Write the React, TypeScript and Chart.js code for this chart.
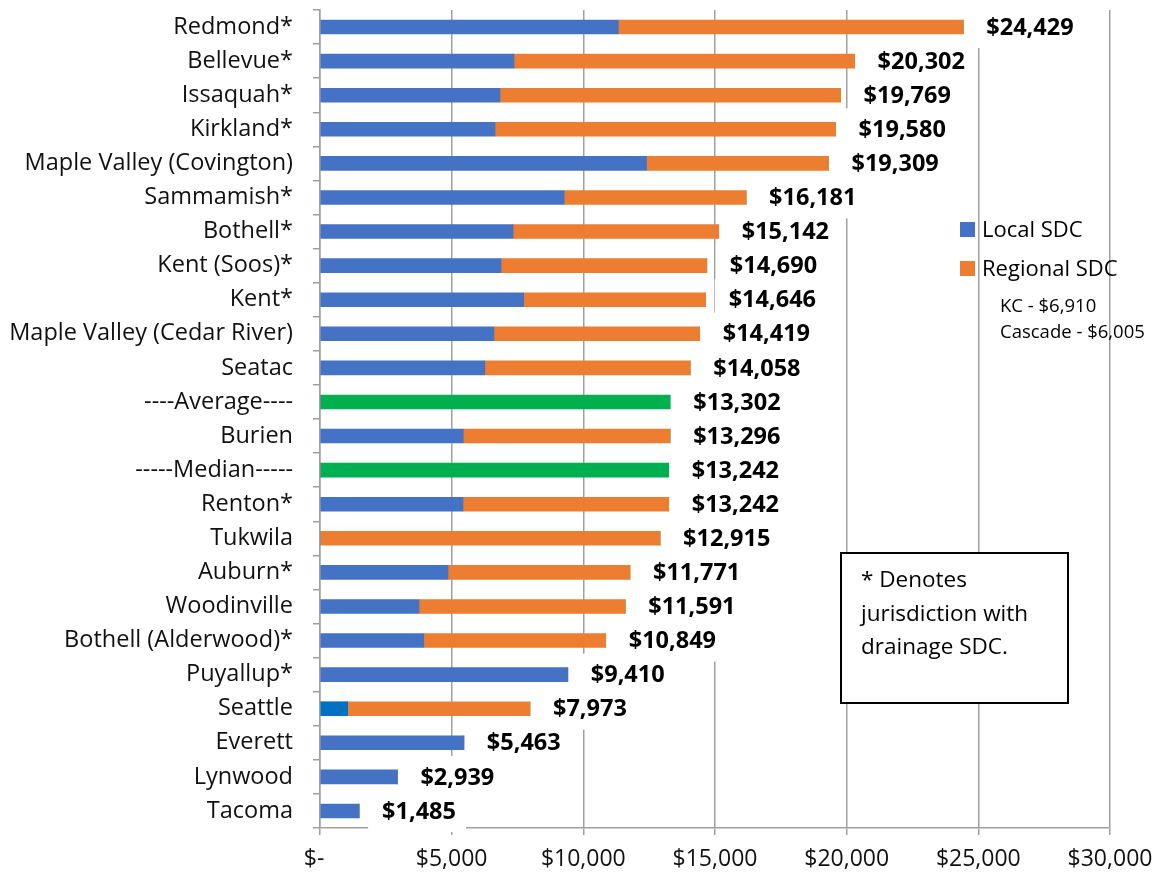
import React, { useEffect, useRef } from 'react';
import { Chart, registerables } from 'chart.js';

Chart.register(...registerables);

const categories = [
  'Redmond*',
  'Bellevue*',
  'Issaquah*',
  'Kirkland*',
  'Maple Valley (Covington)',
  'Sammamish*',
  'Bothell*',
  'Kent (Soos)*',
  'Kent*',
  'Maple Valley (Cedar River)',
  'Seatac',
  '----Average----',
  'Burien',
  '-----Median-----',
  'Renton*',
  'Tukwila',
  'Auburn*',
  'Woodinville',
  'Bothell (Alderwood)*',
  'Puyallup*',
  'Seattle',
  'Everett',
  'Lynwood',
  'Tacoma',
];

const localSDC = [
  11330, 7368, 6835, 6646, 12399, 9271, 7330, 6875, 7736, 6604, 6258, 0,
  5440, 0, 5430, 0, 4861, 3760, 3939, 9410, 1050, 5463, 2939, 1485,
];

const regionalSDC = [
  13099, 12934, 12934, 12934, 6910, 6910, 7812, 7815, 6910, 7815, 7800, 0,
  7856, 0, 7812, 12915, 6910, 7831, 6910, 0, 6923, 0, 0, 0,
];

const summarySDC = [
  0, 0, 0, 0, 0, 0, 0, 0, 0, 0, 0, 13302,
  0, 13242, 0, 0, 0, 0, 0, 0, 0, 0, 0, 0,
];

const xTickMin = 0;
const xTickMax = 30000;
const xTickStep = 5000;

const legendItems = ['Local SDC', 'Regional SDC'];
const legendNotes = ['KC - $6,910', 'Cascade - $6,005'];
const noteLines = ['* Denotes', 'jurisdiction with', 'drainage SDC.'];

const BLUE = '#4472C4';
const DARK_BLUE = '#0070C0';
const ORANGE = '#ED7D31';
const GREEN = '#00B050';
const GRID = '#a0a0a0';
const FONT = '"Open Sans", Lato, sans-serif';

const fmt = (v: number) => '$' + v.toLocaleString('en-US');

const valueLabels = {
  id: 'valueLabels',
  afterDatasetsDraw(chart: any) {
    const ctx = chart.ctx;
    const xs = chart.scales.x;
    const ys = chart.scales.y;
    ctx.save();
    ctx.font = `bold 23.5px ${FONT}`;
    const items = categories.map((_, i) => {
      const total = localSDC[i] + regionalSDC[i] + summarySDC[i];
      const text = fmt(total);
      const tx = xs.getPixelForValue(total) + 23;
      const ty = ys.getPixelForValue(i);
      const w = ctx.measureText(text).width;
      return { text, tx, ty, w };
    });
    ctx.fillStyle = '#ffffff';
    items.forEach((it) => ctx.fillRect(it.tx - 14, it.ty - 21, it.w + 24, 42));
    ctx.fillStyle = '#000000';
    ctx.textAlign = 'left';
    ctx.textBaseline = 'middle';
    items.forEach((it) => ctx.fillText(it.text, it.tx, it.ty + 1));
    ctx.restore();
  },
};

const extras = {
  id: 'extras',
  afterDraw(chart: any) {
    const ctx = chart.ctx;
    ctx.save();
    // legend
    const colors = [BLUE, ORANGE];
    const baselines = [237, 276];
    ctx.textAlign = 'left';
    ctx.textBaseline = 'alphabetic';
    ctx.font = `22px ${FONT}`;
    legendItems.forEach((t, i) => {
      ctx.fillStyle = colors[i];
      ctx.fillRect(960, baselines[i] - 15, 15, 15);
      ctx.fillStyle = '#000';
      ctx.fillText(t, 982, baselines[i]);
    });
    ctx.font = `18.5px ${FONT}`;
    const noteBase = [312, 338];
    legendNotes.forEach((t, i) => ctx.fillText(t, 1000, noteBase[i]));

    // note box
    ctx.fillStyle = '#fff';
    ctx.fillRect(841, 553, 227, 150);
    ctx.strokeStyle = '#000';
    ctx.lineWidth = 2;
    ctx.strokeRect(841, 553, 227, 150);
    ctx.fillStyle = '#000';
    ctx.font = `22.5px ${FONT}`;
    const nb = [587, 621, 654];
    noteLines.forEach((t, i) => ctx.fillText(t, 861, nb[i]));
    ctx.restore();
  },
};

export default function App() {
  const ref = useRef<HTMLCanvasElement>(null);

  useEffect(() => {
    document.body.style.margin = '0';
    const canvas = ref.current;
    if (!canvas) return;
    const chart = new Chart(canvas, {
      type: 'bar',
      data: {
        labels: categories,
        datasets: [
          {
            label: 'Local SDC',
            data: localSDC,
            backgroundColor: categories.map((c) => (c === 'Seattle' ? DARK_BLUE : BLUE)),
            barThickness: 14,
          },
          {
            label: 'Regional SDC',
            data: regionalSDC,
            backgroundColor: ORANGE,
            barThickness: 14,
          },
          {
            label: 'Summary',
            data: summarySDC,
            backgroundColor: GREEN,
            barThickness: 14,
          },
        ],
      },
      options: {
        indexAxis: 'y',
        responsive: false,
        animation: false,
        layout: { padding: { top: 10, right: 50, left: 0, bottom: 0 } },
        plugins: {
          legend: { display: false },
          tooltip: { enabled: false },
        },
        scales: {
          x: {
            stacked: true,
            min: xTickMin,
            max: xTickMax,
            ticks: {
              stepSize: xTickStep,
              color: '#111',
              padding: 11,
              font: { family: FONT, size: 23 },
              callback: (v: any) => (Number(v) === 0 ? '$-  ' : fmt(Number(v))),
            },
            grid: { color: GRID, lineWidth: 1.5, tickLength: 7 },
            border: { color: GRID, width: 1.5 },
            afterFit: (s: any) => {
              s.height = 47;
              s.paddingLeft = 0;
              s.paddingRight = 0;
            },
          },
          y: {
            stacked: true,
            ticks: {
              color: '#111',
              padding: 20,
              autoSkip: false,
              font: { family: FONT, size: 23.5 },
            },
            grid: { drawOnChartArea: false, color: GRID, lineWidth: 1.5, tickLength: 7, offset: true },
            border: { color: GRID, width: 1.5 },
            afterFit: (s: any) => {
              s.width = 320;
              s.paddingTop = 0;
              s.paddingBottom = 0;
            },
          },
        },
      },
      plugins: [valueLabels, extras],
    });
    return () => chart.destroy();
  }, []);

  return (
    <div style={{ width: 1160, height: 875 }}>
      <canvas ref={ref} width={1160} height={875} style={{ display: 'block' }} />
    </div>
  );
}
